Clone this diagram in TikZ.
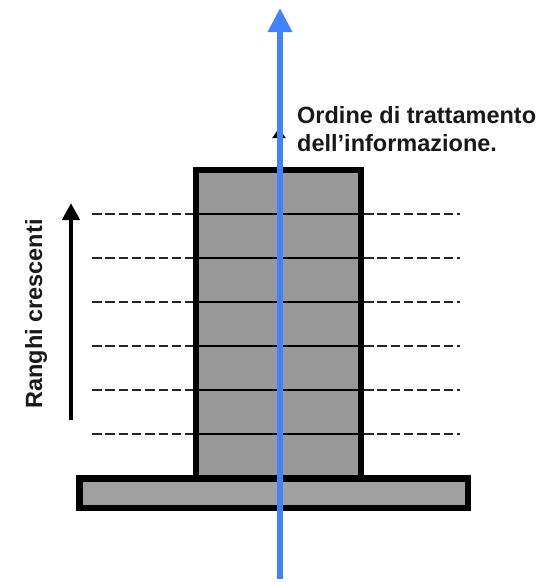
\documentclass[tikz,border=0pt]{standalone}
\usepackage{fontspec}
\setmainfont{Liberation Sans}
\usetikzlibrary{arrows.meta}
\definecolor{flowblue}{RGB}{66,130,255}
\definecolor{boxgray}{RGB}{152,152,152}
\definecolor{basegray}{RGB}{160,160,160}
\begin{document}
\begin{tikzpicture}[x=1pt,y=-1pt,
  rankdash/.style={line width=1.5pt, dash pattern=on 9.5pt off 3.8pt, black!85},
  ranksolid/.style={line width=2.6pt, black},
  label/.style={font=\bfseries\fontsize{23.5}{28}\selectfont, inner sep=0pt, text=black!90}]
\useasboundingbox (0,0) rectangle (560,582);
% tower
\fill[boxgray] (196,170) rectangle (361,478);
\foreach \y in {214,258,302,346,390,434}{
  \draw[ranksolid] (196,\y) -- (361,\y);
  \draw[rankdash] (92,\y) -- (196,\y);
  \draw[rankdash] (364,\y) -- (460,\y);
}
\node[draw=black, line width=6pt, minimum width=165pt, minimum height=308pt, inner sep=0pt] (tower) at (278.5,324) {};
% base
\node[draw=black, line width=6.5pt, fill=basegray, minimum width=388.5pt, minimum height=29.5pt, inner sep=0pt] (base) at (273.5,493) {};
% rank arrow
\coordinate (rlow) at (71,420);
\coordinate (rhigh) at (71,203);
\draw[line width=4.5pt, -{Triangle[length=17pt,width=17pt]}] (rlow) -- (rhigh);
\node[label, rotate=90, anchor=base] (ranghi) at (42,314) {Ranghi crescenti};
% small black arrow behind blue line
\coordinate (sa) at (279,142);
\coordinate (sb) at (279,128);
\draw[line width=2pt, -{Triangle[length=10pt,width=13pt]}] (sa) -- (sb);
% blue arrow
\coordinate (blow) at (280,579);
\coordinate (bhigh) at (280,8);
\draw[flowblue, line width=6.5pt, -{Triangle[length=24pt,width=23pt]}] (blow) -- (bhigh);
\node[label, anchor=base west] (ordine) at (297,123) {Ordine di trattamento};
\node[label, anchor=base west] (info) at (297,151) {dell’informazione.};
\end{tikzpicture}
\end{document}
